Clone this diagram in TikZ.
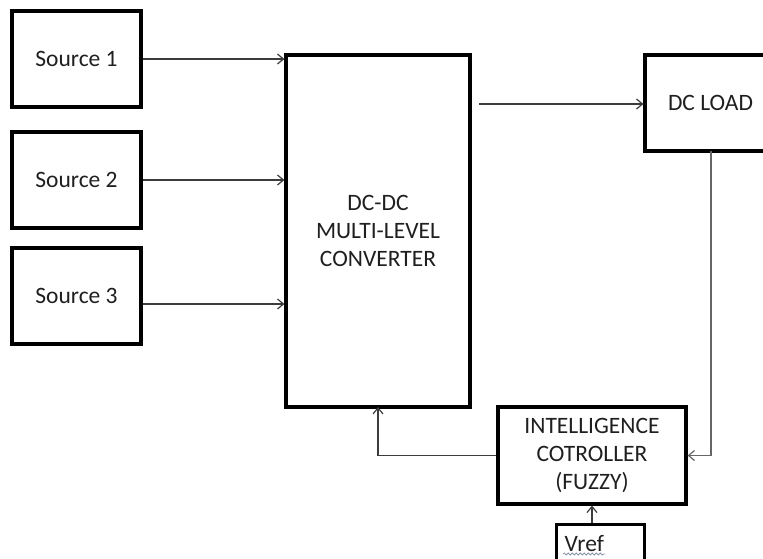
\documentclass[tikz,border=0pt]{standalone}
\usepackage{fontspec}
\setmainfont{Carlito}
\usetikzlibrary{arrows.meta,decorations.pathmorphing}
\definecolor{wiretone}{RGB}{60,60,60}
\definecolor{squiggle}{RGB}{140,150,170}
\tikzset{
  block/.style={draw=black,line width=3.2pt,inner sep=0pt,text=black!88,align=center},
  source block/.style={block,minimum width=129pt,minimum height=96pt},
  wire/.style={-{Straight Barb[length=6pt,width=10pt,line width=1.2pt]},line width=1.4pt,draw=wiretone},
  plain wire/.style={line width=1.4pt,draw=wiretone}
}

\begin{document}
\begin{tikzpicture}[x=1pt,y=-1pt,font=\fontsize{23.5}{28}\selectfont]
  \useasboundingbox (0,0) rectangle (763,558);
  \clip (0,0) rectangle (763,558);

  \node[source block] (src1) at (76.5,59) {Source 1};
  \node[source block] (src2) at (76.5,180) {Source 2};
  \node[source block] (src3) at (76.5,296) {Source 3};

  \node[block,minimum width=184pt,minimum height=352pt] (conv) at (378,231)
    {DC-DC\\MULTI-LEVEL\\CONVERTER};
  \node[block,minimum width=131pt,minimum height=96pt] (load) at (710.5,103) {DC LOAD};
  \node[block,minimum width=188pt,minimum height=97pt] (ctrl) at (592,455.5)
    {INTELLIGENCE\\COTROLLER\\(FUZZY)};
  \node[block,anchor=north west,align=left,inner xsep=8pt,inner ysep=3pt,
    text width=72pt,text height=24pt,text depth=30pt] (vref) at (555,523) {Vref};

  \coordinate (outstart) at (479,104);
  \coordinate (loadtap) at (711,151);
  \coordinate (fbtap) at (378,407);

  \draw[wire] (src1.east) -- (src1.east -| conv.west);
  \draw[wire] (src2.east) -- (src2.east -| conv.west);
  \draw[wire] ([yshift=-8pt]src3.east) -- ([yshift=-8pt]src3.east -| conv.west);
  \draw[wire] (outstart) -- (outstart -| load.west);

  \draw[wire,line width=1.1pt,draw=black!60] (loadtap) |- (ctrl.east);
  \draw[wire] (ctrl.west) -| (fbtap);
  \draw[wire] (vref.north -| 592,0) -- (ctrl.south -| 592,0);

  % spelling mark under Vref
  \draw[squiggle,line width=0.8pt,decorate,decoration={snake,amplitude=1pt,segment length=4pt}]
    (563,554) -- (605,554);
\end{tikzpicture}
\end{document}
